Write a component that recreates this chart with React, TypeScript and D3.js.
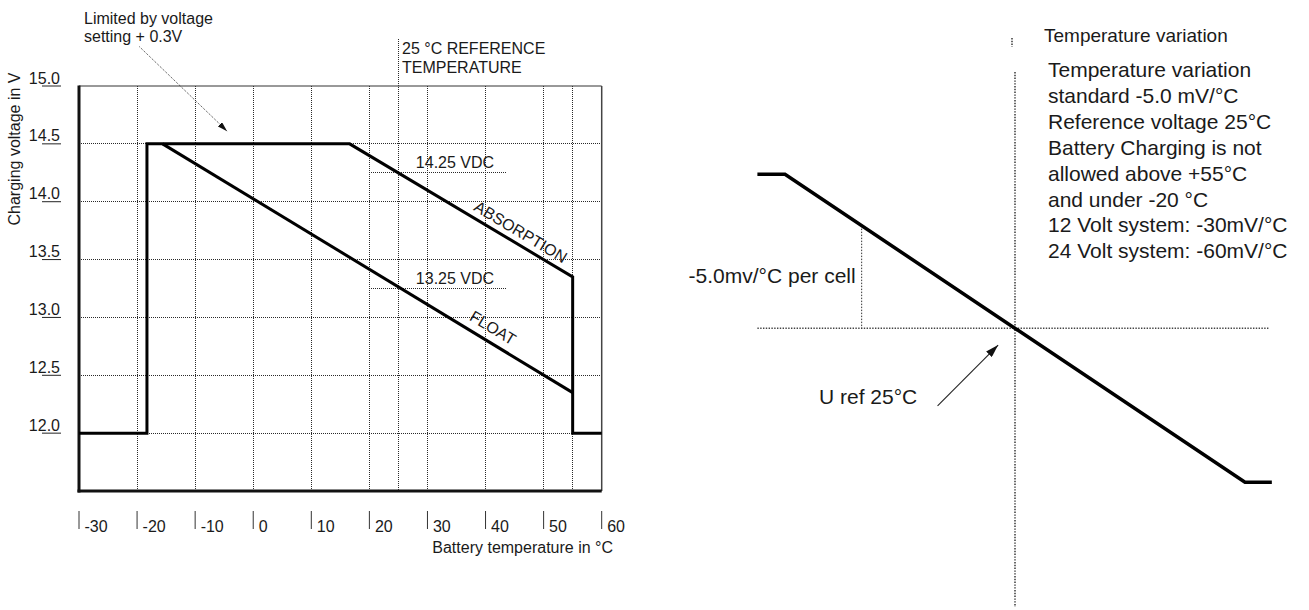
import React from "react";
import * as d3 from "d3";

// ---------- Left chart data ----------
const tempTicks = [-30, -20, -10, 0, 10, 20, 30, 40, 50, 60];
const voltTicks = [12.0, 12.5, 13.0, 13.5, 14.0, 14.5, 15.0];
const gridTemps = [-20, -10, 0, 10, 20, 25, 30, 40, 50, 55];
const gridVolts = [12.0, 12.5, 13.0, 13.5, 14.0, 14.5];
const absorptionTemp = [-30, -18.3, -18.3, 16.6, 55, 55, 60];
const absorptionVolt = [12.0, 12.0, 14.5, 14.5, 13.35, 12.0, 12.0];
const floatTemp = [-15.6, 55];
const floatVolt = [14.5, 12.35];
const refLevels = [14.25, 13.25];
const refLabels = ["14.25 VDC", "13.25 VDC"];
const refFrom = 20;
const refTo = 43.5;
const referenceTemp = 25;
const absorptionLabelTemp = 45;
const floatLabelTemp = 40;
const limitArrowTemp = [-19.6, -4.5];
const limitArrowVolt = [15.34, 14.61];

// ---------- Right chart data ----------
const compTemp = [-8.6, -5, 55, 58.5];
const compDelta = [0.9, 0.9, -0.9, -0.9];
const refLineTemp = [-8.6, 58.1];
const perCellTemp = 5;
const urefArrowTemp = [14.9, 22.8];
const urefArrowDelta = [-0.454, -0.098];
const infoLines = [
  "Temperature variation",
  "standard -5.0 mV/°C",
  "Reference voltage 25°C",
  "Battery Charging is not",
  "allowed above +55°C",
  "and under -20 °C",
  "12 Volt system: -30mV/°C",
  "24 Volt system: -60mV/°C",
];

const FONT = "'Liberation Sans', Arial, Helvetica, sans-serif";
const TXT = "#1a1a1a";

export default function App() {
  const x = d3.scaleLinear().domain([-30, 60]).range([79, 601.7]);
  const y = d3.scaleLinear().domain([11.5, 15.0]).range([491, 86]);

  const xR = d3.scaleLinear().domain([-5, 55]).range([785, 1245]);
  const yR = d3.scaleLinear().domain([-1, 1]).range([328.3 + 171.1, 328.3 - 171.1]);

  const absPath =
    d3
      .line<number>()
      .x((_, i) => x(absorptionTemp[i]))
      .y((_, i) => y(absorptionVolt[i]))(absorptionTemp) || "";
  const floatPath =
    d3
      .line<number>()
      .x((_, i) => x(floatTemp[i]))
      .y((_, i) => y(floatVolt[i]))(floatTemp) || "";
  const compPath =
    d3
      .line<number>()
      .x((_, i) => xR(compTemp[i]))
      .y((_, i) => yR(compDelta[i]))(compTemp) || "";

  const interp = (ts: number[], vs: number[], t: number) => {
    for (let i = 0; i < ts.length - 1; i++) {
      if (t >= ts[i] && t <= ts[i + 1] && ts[i + 1] !== ts[i]) {
        const f = (t - ts[i]) / (ts[i + 1] - ts[i]);
        return vs[i] + f * (vs[i + 1] - vs[i]);
      }
    }
    return vs[0];
  };
  const angleOf = (x1: number, y1: number, x2: number, y2: number) =>
    (Math.atan2(y2 - y1, x2 - x1) * 180) / Math.PI;
  const absAngle = angleOf(x(16.6), y(14.5), x(55), y(13.35));
  const floatAngle = angleOf(x(floatTemp[0]), y(floatVolt[0]), x(floatTemp[1]), y(floatVolt[1]));
  const absLX = x(absorptionLabelTemp);
  const absLY = y(interp(absorptionTemp, absorptionVolt, absorptionLabelTemp));
  const flLX = x(floatLabelTemp);
  const flLY = y(interp(floatTemp, floatVolt, floatLabelTemp));

  const dotted = {
    stroke: "#2a2a2a",
    strokeWidth: 1,
    strokeDasharray: "1,1",
    fill: "none",
    shapeRendering: "crispEdges" as const,
  };
  const dottedR = {
    stroke: "#444",
    strokeWidth: 1.6,
    strokeDasharray: "1.4,1.4",
    fill: "none",
  };

  return (
    <svg
      width={1309}
      height={610}
      style={{ position: "absolute", left: 0, top: 0, background: "#fff" }}
      fontFamily={FONT}
    >
      <defs>
        <marker id="arrA" viewBox="0 0 10 6" refX="10" refY="3" markerWidth="10" markerHeight="6" markerUnits="userSpaceOnUse" orient="auto">
          <path d="M0,0 L10,3 L0,6 z" fill="#111" />
        </marker>
        <marker id="arrB" viewBox="0 0 13 8" refX="13" refY="4" markerWidth="13" markerHeight="8" markerUnits="userSpaceOnUse" orient="auto">
          <path d="M0,0 L13,4 L0,8 z" fill="#111" />
        </marker>
      </defs>

      {/* ===== Left chart ===== */}
      {gridVolts.map((v) => (
        <line key={"gv" + v} x1={x(-30)} x2={x(60)} y1={y(v)} y2={y(v)} {...dotted} />
      ))}
      {gridTemps.map((t) => (
        <line
          key={"gt" + t}
          x1={x(t)}
          x2={x(t)}
          y1={t === referenceTemp ? 39 : y(15)}
          y2={y(11.5)}
          {...dotted}
        />
      ))}
      {refLevels.map((v, i) => (
        <g key={"ref" + v}>
          <line x1={x(refFrom)} x2={x(refTo)} y1={y(v)} y2={y(v)} {...dotted} />
          <text x={x(28.0)} y={y(v) - 5} fontSize={16} fill={TXT}>
            {refLabels[i]}
          </text>
        </g>
      ))}
      <line x1={x(-30)} x2={x(60)} y1={y(15)} y2={y(15)} stroke="#333" strokeWidth={1} />
      <line x1={x(60)} x2={x(60)} y1={y(15)} y2={y(11.5)} stroke="#444" strokeWidth={1.5} />
      <line x1={x(-30)} x2={x(-30)} y1={y(15) - 0.5} y2={y(11.5) + 1.5} stroke="#111" strokeWidth={3} />
      <line x1={x(-30) - 1.5} x2={x(60)} y1={y(11.5)} y2={y(11.5)} stroke="#111" strokeWidth={3} />

      <path d={absPath} fill="none" stroke="#000" strokeWidth={3} strokeLinejoin="miter" />
      <path d={floatPath} fill="none" stroke="#000" strokeWidth={3} />

      {voltTicks.map((v) => (
        <g key={"yt" + v}>
          <line x1={42} x2={61} y1={y(v)} y2={y(v)} stroke="#222" strokeWidth={1} />
          <text x={60} y={y(v) - 2.5} textAnchor="end" fontSize={16} fill={TXT}>
            {v.toFixed(1)}
          </text>
        </g>
      ))}
      <text transform={`translate(20,149) rotate(-90)`} textAnchor="middle" fontSize={16} fill={TXT}>
        Charging voltage in V
      </text>

      {tempTicks.map((t) => (
        <g key={"xt" + t}>
          <line x1={x(t)} x2={x(t)} y1={511} y2={529} stroke="#333" strokeWidth={1} />
          <text x={x(t) + 5.5} y={532} fontSize={16} fill={TXT}>
            {String(t)}
          </text>
        </g>
      ))}
      <text x={613} y={553} textAnchor="end" fontSize={16} fill={TXT}>
        Battery temperature in °C
      </text>

      <text x={84} y={24} fontSize={16} fill={TXT}>
        Limited by voltage
      </text>
      <text x={84} y={42} fontSize={16} fill={TXT}>
        setting + 0.3V
      </text>
      <line
        x1={x(limitArrowTemp[0])}
        y1={y(limitArrowVolt[0])}
        x2={x(limitArrowTemp[1])}
        y2={y(limitArrowVolt[1])}
        stroke="#333"
        strokeWidth={1}
        strokeDasharray="1,1.2"
        markerEnd="url(#arrA)"
      />
      <text x={402} y={54} fontSize={16} fill={TXT}>
        25 °C REFERENCE
      </text>
      <text x={402} y={73} fontSize={16} fill={TXT}>
        TEMPERATURE
      </text>
      <text
        transform={`translate(${absLX},${absLY}) rotate(${absAngle})`}
        y={-6.5}
        textAnchor="middle"
        fontSize={16}
        fill={TXT}
      >
        ABSORPTION
      </text>
      <text
        transform={`translate(${flLX},${flLY}) rotate(${floatAngle})`}
        y={-8.5}
        textAnchor="middle"
        fontSize={16}
        fill={TXT}
      >
        FLOAT
      </text>

      {/* ===== Right chart ===== */}
      <line x1={xR(refLineTemp[0])} x2={xR(refLineTemp[1])} y1={yR(0)} y2={yR(0)} {...dottedR} />
      <line x1={xR(25)} x2={xR(25)} y1={72} y2={607} {...dottedR} />
      <line x1={xR(25) - 3} x2={xR(25) - 3} y1={38} y2={47} {...dottedR} />
      <line
        x1={xR(perCellTemp)}
        x2={xR(perCellTemp)}
        y1={yR(interp(compTemp, compDelta, perCellTemp))}
        y2={yR(0)}
        stroke="#333"
        strokeWidth={1}
        strokeDasharray="1.5,1.5"
      />
      <path d={compPath} fill="none" stroke="#000" strokeWidth={3.5} />
      <text x={xR(perCellTemp) - 6} y={283} textAnchor="end" fontSize={21} fill={TXT}>
        -5.0mv/°C per cell
      </text>
      <text x={819} y={404} fontSize={21} fill={TXT}>
        U ref 25°C
      </text>
      <line
        x1={xR(urefArrowTemp[0])}
        y1={yR(urefArrowDelta[0])}
        x2={xR(urefArrowTemp[1])}
        y2={yR(urefArrowDelta[1])}
        stroke="#222"
        strokeWidth={1.1}
        markerEnd="url(#arrB)"
      />
      <text x={1044} y={42} fontSize={19} fill={TXT}>
        Temperature variation
      </text>
      {infoLines.map((s, i) => (
        <text key={"il" + i} x={1048} y={77 + i * 25.9} fontSize={21} fill={TXT}>
          {s}
        </text>
      ))}
    </svg>
  );
}
